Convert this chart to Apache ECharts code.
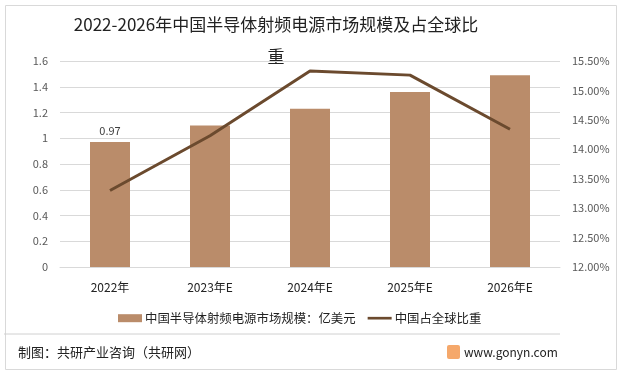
<!DOCTYPE html>
<html><head><meta charset="utf-8">
<script src="https://cdn.jsdelivr.net/npm/echarts@6/dist/echarts.min.js"></script>
<style>html,body{margin:0;padding:0;background:#fff}#c{width:618px;height:376px}</style>
</head><body><div id="c"></div>
<script>
const categories = ['2022年','2023年E','2024年E','2025年E','2026年E'];
const marketSize = [0.97, 1.10, 1.23, 1.36, 1.49];
const globalShare = [13.30, 14.23, 15.33, 15.26, 14.34];
const leftTicks = {min: 0, max: 1.6, interval: 0.2};
const rightTicks = {min: 12, max: 15.5, interval: 0.5};
const titleLine1 = '2022-2026年中国半导体射频电源市场规模及占全球比';
const titleLine2 = '重';
const barName = '中国半导体射频电源市场规模：亿美元';
const lineName = '中国占全球比重';

const font = '"Noto Sans CJK SC", "Noto Sans", sans-serif';
const chart = echarts.init(document.getElementById('c'));
chart.setOption({
  animation: false,
  textStyle: {fontFamily: font},
  grid: {left: 60, right: 58, top: 61, bottom: 109},
  legend: {
    top: 307, left: 113, itemGap: 12, itemWidth: 24, itemHeight: 8,
    textStyle: {fontSize: 12.4, color: '#222', fontFamily: font, padding: [0, 0, 0, -2]},
    data: [{name: barName, icon: 'rect'}, {name: lineName, icon: 'path://M0,0h27v3h-27z'}]
  },
  xAxis: {
    type: 'category', data: categories,
    axisLine: {lineStyle: {color: '#d9d9d9'}},
    axisTick: {show: false},
    axisLabel: {color: '#222', fontSize: 12, margin: 14}
  },
  yAxis: [
    {type: 'value', min: leftTicks.min, max: leftTicks.max, interval: leftTicks.interval,
     axisLabel: {color: '#595959', fontSize: 11, margin: 12, formatter: v => String(Math.round(v*10)/10)},
     splitLine: {lineStyle: {color: '#d9d9d9'}}, axisLine: {show: false}, axisTick: {show: false}},
    {type: 'value', min: rightTicks.min, max: rightTicks.max, interval: rightTicks.interval,
     axisLabel: {color: '#595959', fontSize: 11, margin: 12, formatter: v => v.toFixed(2) + '%'},
     splitLine: {show: false}, axisLine: {show: false}, axisTick: {show: false}}
  ],
  series: [
    {name: barName, type: 'bar', data: marketSize.map((v, i) => i === 0 ? {value: v, label: {show: true}} : v),
     barWidth: 40, itemStyle: {color: '#BA8C6A'},
     label: {show: false, position: 'top', color: '#404040', fontSize: 11, distance: 6}},
    {name: lineName, type: 'line', yAxisIndex: 1, data: globalShare, symbol: 'none',
     lineStyle: {color: '#6B4A2E', width: 3}, itemStyle: {color: '#6B4A2E'}}
  ],
  graphic: [
    {type: 'rect', left: 3, top: 3, shape: {width: 611, height: 364}, style: {fill: 'none', stroke: '#d9d9d9', lineWidth: 1}, silent: true},
    {type: 'text', x: 276, y: 25, style: {text: titleLine1, font: '17px ' + font, fill: '#222', align: 'center', verticalAlign: 'middle'}},
    {type: 'text', x: 276, y: 57, style: {text: titleLine2, font: '17px ' + font, fill: '#222', align: 'center', verticalAlign: 'middle'}},
    {type: 'line', shape: {x1: 4, y1: 334, x2: 560, y2: 334}, style: {stroke: '#d0d0d0', lineWidth: 1}},
    {type: 'text', x: 18, y: 352, style: {text: '制图：共研产业咨询（共研网）', font: '13px ' + font, fill: '#222', verticalAlign: 'middle'}},
    {type: 'rect', shape: {x: 447, y: 345, width: 13, height: 14, r: 2}, style: {fill: '#F5A86B'}},
    {type: 'text', x: 464, y: 352, style: {text: 'www.gonyn.com', font: '12px ' + font, fill: '#222', verticalAlign: 'middle'}}
  ]
});
</script></body></html>
